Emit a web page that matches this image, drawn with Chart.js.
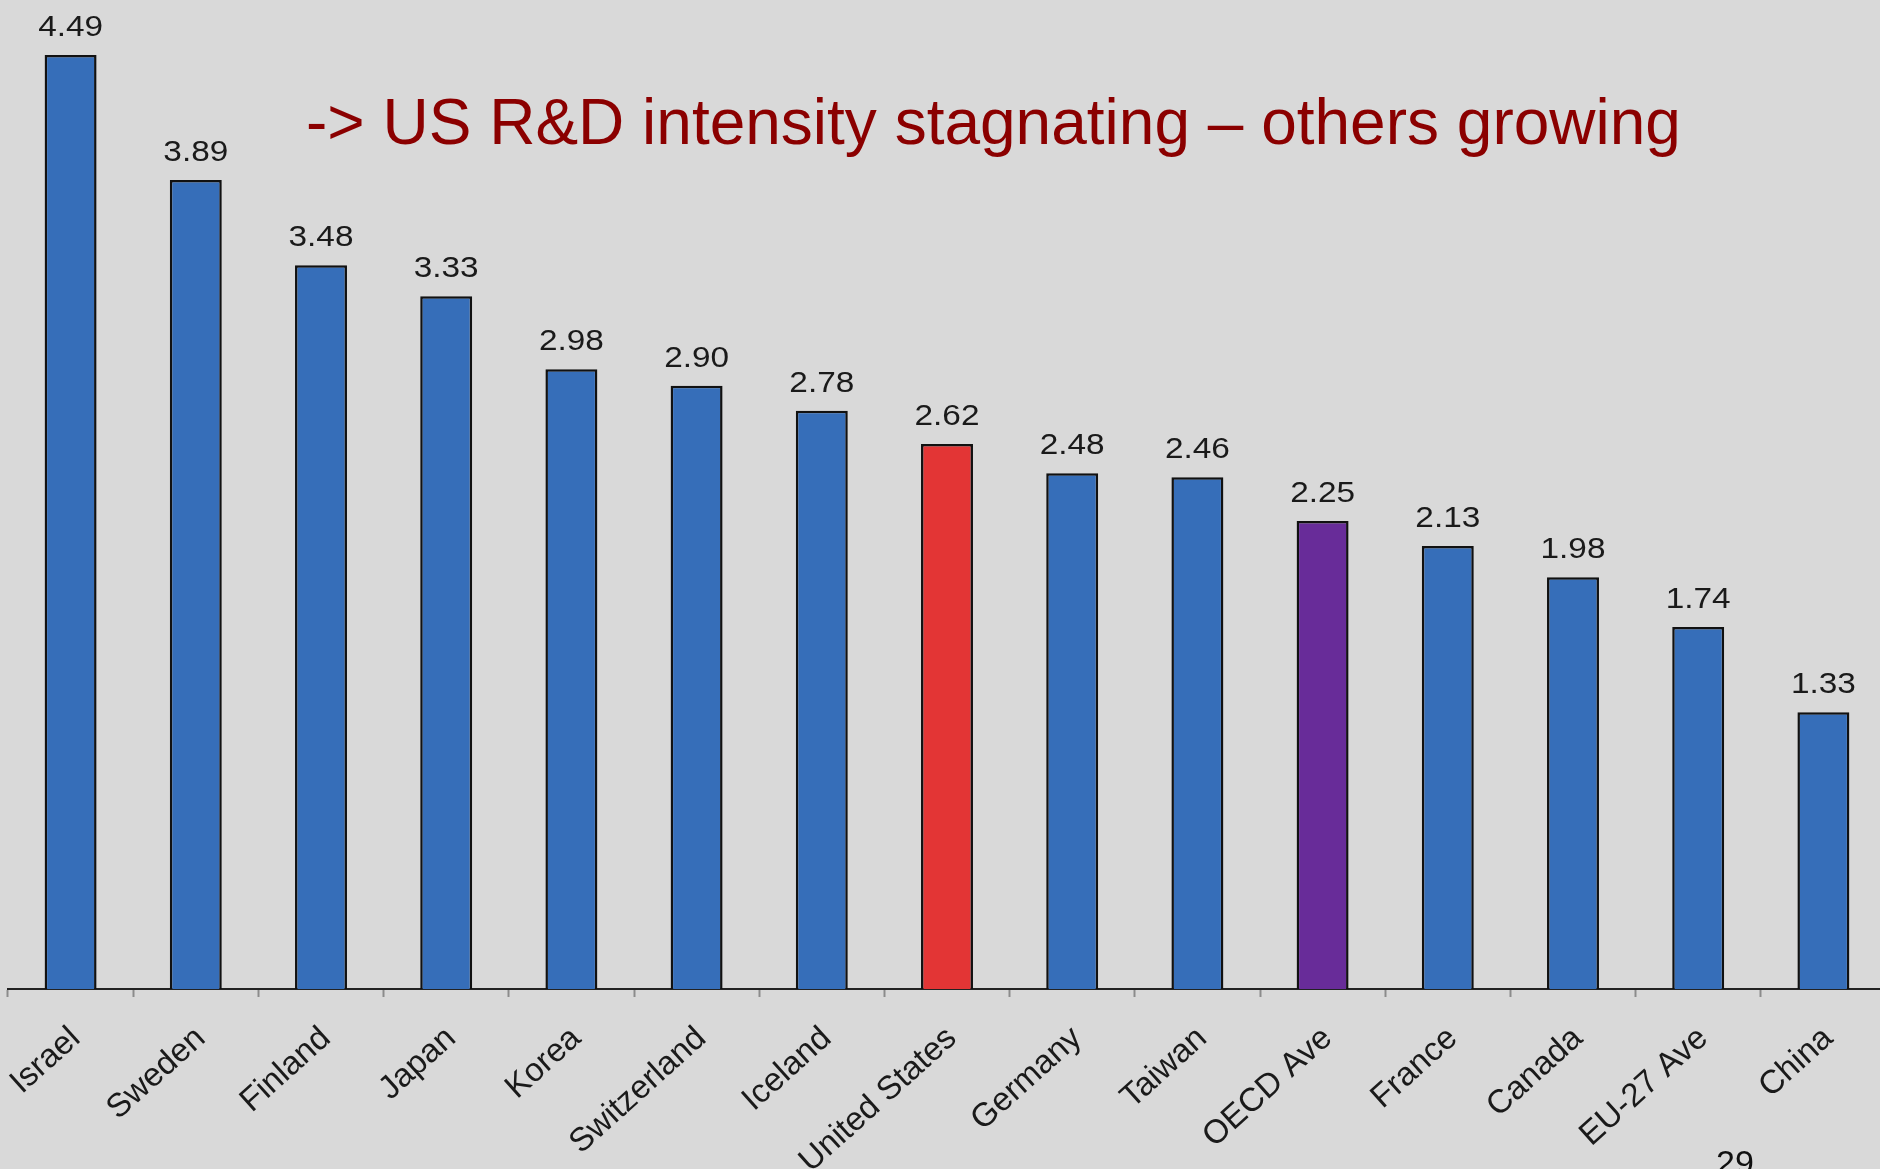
<!DOCTYPE html>
<html>
<head>
<meta charset="utf-8">
<script src="https://cdn.jsdelivr.net/npm/chart.js@4.4.1/dist/chart.umd.min.js"></script>
<style>
  body { margin: 0; background: #d9d9d9; }
  #wrap { position: relative; width: 1880px; height: 1169px; overflow: hidden; }
  #plot { position: absolute; left: 0; top: 0; width: 1886px; height: 1169px; }
  #headline {
    position: absolute; left: 306px; top: 90px;
    font-family: "Liberation Sans", Arial, sans-serif; font-size: 64px; line-height: 64px;
    color: #8b0000; white-space: nowrap;
  }
  #page {
    position: absolute; left: 1716px; top: 1145px;
    font-family: "Liberation Sans", Arial, sans-serif; font-size: 34px; line-height: 34px;
    color: #111;
  }
</style>
</head>
<body>
<div id="wrap">
  <div id="plot"><canvas id="myChart"></canvas></div>
  <div id="headline">-&gt; US R&amp;D intensity stagnating – others growing</div>
  <div id="page">29</div>
</div>
<script>
// countries / groups along the x axis
const countries = [
  "Israel",
  "Sweden",
  "Finland",
  "Japan",
  "Korea",
  "Switzerland",
  "Iceland",
  "United States",
  "Germany",
  "Taiwan",
  "OECD Ave",
  "France",
  "Canada",
  "EU-27 Ave",
  "China",
];

// R&D intensity (% of GDP)
const rdIntensity = [4.49, 3.89, 3.48, 3.33, 2.98, 2.9, 2.78, 2.62, 2.48, 2.46, 2.25, 2.13, 1.98, 1.74, 1.33];

// which bars are highlighted
const barColors = [
  "#366eb9", "#366eb9", "#366eb9", "#366eb9", "#366eb9", "#366eb9", "#366eb9",
  "#e33535",
  "#366eb9", "#366eb9",
  "#682c99",
  "#366eb9", "#366eb9", "#366eb9", "#366eb9",
];

// draws the number above each bar
const valueLabels = {
  id: "valueLabels",
  afterDatasetsDraw(chart) {
    const ctx = chart.ctx;
    const meta = chart.getDatasetMeta(0);
    ctx.save();
    ctx.font = '29px "Liberation Sans"';
    ctx.fillStyle = "#1a1a1a";
    ctx.textAlign = "center";
    ctx.textBaseline = "alphabetic";
    meta.data.forEach((bar, i) => {
      ctx.save();
      ctx.translate(bar.x, bar.y - 19);
      ctx.scale(1.15, 1);
      ctx.fillText(rdIntensity[i].toFixed(2), 0, 0);
      ctx.restore();
    });
    ctx.restore();
  },
};

const data = {
  labels: countries,
  datasets: [
    {
      label: "R&D intensity",
      data: rdIntensity,
      backgroundColor: barColors,
      borderColor: "#111",
      borderWidth: 2.5,
      barPercentage: 0.415,
      categoryPercentage: 1.0,
    },
  ],
};

const config = {
  type: "bar",
  data: data,
  options: {
    responsive: true,
    maintainAspectRatio: false,
    animation: false,
    layout: { padding: { left: 8, right: 0, top: 1, bottom: 0 } },
    plugins: {
      legend: { display: false },
      tooltip: { enabled: false },
    },
    scales: {
      x: {
        offset: true,
        grid: {
          display: true,
          offset: true,
          drawOnChartArea: false,
          tickLength: 8,
          tickWidth: 2,
          color: "#8c8c8c",
        },
        border: { display: true, color: "#222", width: 2 },
        ticks: {
          autoSkip: false,
          minRotation: 42,
          maxRotation: 42,
          padding: 22,
          labelOffset: 5,
          color: "#1a1a1a",
          font: { family: "Liberation Sans", size: 33 },
        },
        afterFit: (scale) => {
          // fixed axis band, no extra room for label overhang
          scale.height = 180;
          scale.paddingLeft = 0;
          scale.paddingRight = 0;
        },
      },
      y: {
        display: false,
        min: 0,
        max: 4.75,
      },
    },
  },
  plugins: [valueLabels],
};

const myChart = new Chart(document.getElementById("myChart"), config);
</script>
</body>
</html>
